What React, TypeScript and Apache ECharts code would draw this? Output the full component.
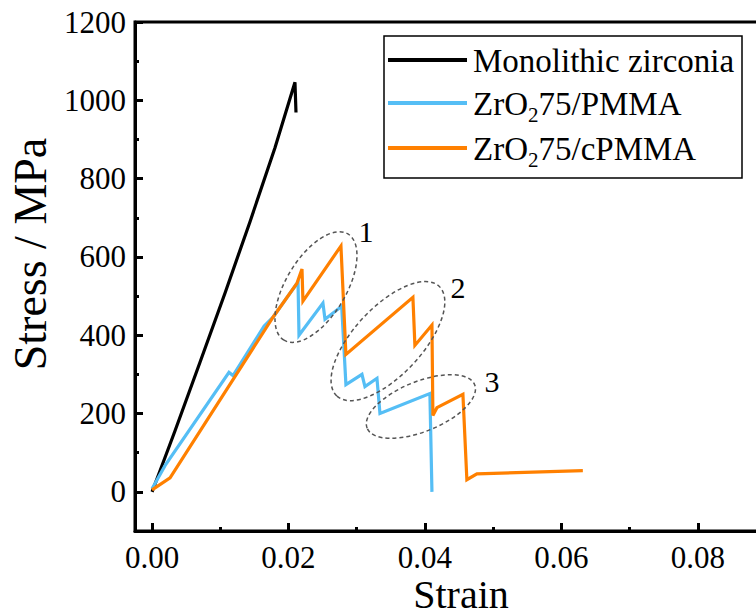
import React, { useEffect, useRef } from "react";
import * as echarts from "echarts";

// ---- Data ----
const monoStrain = [0, 0.00117, 0.00337, 0.00703, 0.0107, 0.01436, 0.01802, 0.02095, 0.0211];
const monoStress = [0, 54, 156, 331, 508, 690, 879, 1046, 969];

const pmmaStrain = [0, 0.0019, 0.01128, 0.01187, 0.01641, 0.01773, 0.0214, 0.02154, 0.02505, 0.02535, 0.0278, 0.02842, 0.03077, 0.03121, 0.03297, 0.03341, 0.04073, 0.04103];
const pmmaStress = [8, 67, 305, 297, 423, 446, 536, 400, 482, 441, 474, 274, 300, 269, 290, 200, 251, 0];

const cpmmaStrain = [0, 0.00264, 0.01773, 0.02125, 0.02198, 0.02212, 0.02769, 0.02842, 0.03824, 0.03853, 0.04103, 0.04117, 0.04176, 0.04557, 0.04615, 0.04762, 0.06315];
const cpmmaStress = [5, 36, 446, 533, 569, 487, 628, 351, 497, 374, 426, 195, 215, 249, 31, 46, 54];

const seriesNames = ["Monolithic zirconia", "ZrO2 75/PMMA", "ZrO2 75/cPMMA"];
const seriesColors = ["#000000", "#55BEF5", "#FF8000"];
// legend text pieces: [main, subscript, main]
const legendParts = [["Monolithic zirconia", "", ""], ["ZrO", "2", "75/PMMA"], ["ZrO", "2", "75/cPMMA"]];

const xTickLabels = [0, 0.02, 0.04, 0.06, 0.08];
const xMinorTicks = [0.01, 0.03, 0.05, 0.07, 0.09];
const yTickLabels = [0, 200, 400, 600, 800, 1000, 1200];
const yMinorTicks = [100, 300, 500, 700, 900, 1100];

// annotation ellipses: centre (strain, stress), semi-axes px, rotation deg, label and its anchor
const annoCenters = [[0.02403, 523], [0.03458, 385], [0.03941, 218]];
const annoAxes = [[62, 30, 59], [75, 34, 47], [58, 25, 22]];
const annoLabels = ["1", "2", "3"];
const annoLabelPos = [[0.03136, 664], [0.04484, 521], [0.04982, 282]];

const FONT = "'Liberation Serif', 'Times New Roman', Times, serif";

function zip(xs: number[], ys: number[]) {
  return xs.map((x, i) => [x, ys[i]]);
}

let measureCtx: CanvasRenderingContext2D | null = null;
function textWidth(text: string, size: number) {
  if (!text) return 0;
  if (!measureCtx) measureCtx = document.createElement("canvas").getContext("2d");
  if (!measureCtx) return text.length * size * 0.5;
  measureCtx.font = size + "px " + FONT;
  return measureCtx.measureText(text).width;
}

export default function App() {
  const ref = useRef<HTMLDivElement>(null);
  useEffect(() => {
    if (!ref.current) return;
    const chart = echarts.init(ref.current, undefined, { renderer: "svg" });
    const datasets = [zip(monoStrain, monoStress), zip(pmmaStrain, pmmaStress), zip(cpmmaStrain, cpmmaStress)];
    const axisCommon = {
      type: "value" as const,
      splitLine: { show: false },
    };
    chart.setOption({
      animation: false,
      backgroundColor: "#ffffff",
      grid: {
        left: 135,
        top: 22,
        right: 34,
        bottom: 84,
        show: true,
        borderColor: "#000",
        borderWidth: 3,
        backgroundColor: "transparent",
      },
      xAxis: [
        {
          ...axisCommon,
          min: -0.0025,
          max: 0.09,
          position: "bottom",
          axisLine: { show: true, onZero: false, lineStyle: { color: "#000", width: 3 } },
          axisTick: { show: true, inside: true, length: 8, customValues: xTickLabels, lineStyle: { color: "#000", width: 3 } },
          axisLabel: {
            show: true,
            customValues: xTickLabels,
            formatter: (v: number) => v.toFixed(2),
            fontFamily: FONT,
            fontSize: 31,
            lineHeight: 28,
            color: "#000",
            margin: 12,
          },
        },
        {
          ...axisCommon,
          min: -0.0025,
          max: 0.09,
          position: "bottom",
          axisLine: { show: false, onZero: false },
          axisTick: { show: true, inside: true, length: 4, customValues: xMinorTicks, lineStyle: { color: "#000", width: 3 } },
          axisLabel: { show: false },
        },
      ],
      yAxis: [
        {
          ...axisCommon,
          min: -100,
          max: 1200,
          position: "left",
          axisLine: { show: true, onZero: false, lineStyle: { color: "#000", width: 3 } },
          axisTick: { show: true, inside: true, length: 8, customValues: yTickLabels, lineStyle: { color: "#000", width: 3 } },
          axisLabel: {
            show: true,
            customValues: yTickLabels,
            formatter: (v: number) => String(v),
            fontFamily: FONT,
            fontSize: 31,
            color: "#000",
            margin: 9,
          },
        },
        {
          ...axisCommon,
          min: -100,
          max: 1200,
          position: "left",
          axisLine: { show: false, onZero: false },
          axisTick: { show: true, inside: true, length: 4, customValues: yMinorTicks, lineStyle: { color: "#000", width: 3 } },
          axisLabel: { show: false },
        },
      ],
      series: seriesNames.map((name, i) => ({
        name,
        type: "line",
        xAxisIndex: 0,
        yAxisIndex: 0,
        data: datasets[i],
        showSymbol: false,
        symbol: "none",
        lineStyle: { color: seriesColors[i], width: 3.2, join: "miter" },
        itemStyle: { color: seriesColors[i] },
        z: 2 + i,
      })),
    });

    const graphics: any[] = [];
    annoCenters.forEach((c, i) => {
      const p = chart.convertToPixel({ gridIndex: 0 }, c) as number[];
      graphics.push({
        type: "ellipse",
        x: p[0],
        y: p[1],
        rotation: (annoAxes[i][2] * Math.PI) / 180,
        shape: { cx: 0, cy: 0, rx: annoAxes[i][0], ry: annoAxes[i][1] },
        style: { fill: "none", stroke: "#555", lineWidth: 1.5, lineDash: [4, 3] },
        silent: true,
        z: 20,
      });
      const lp = chart.convertToPixel({ gridIndex: 0 }, annoLabelPos[i]) as number[];
      graphics.push({
        type: "text",
        x: lp[0],
        y: lp[1],
        style: { text: annoLabels[i], fontFamily: FONT, fontSize: 30, fill: "#000", textAlign: "center", textVerticalAlign: "middle" },
        silent: true,
        z: 20,
      });
    });

    // legend box
    const LX = 384, LY = 36, LW = 358, LH = 142;
    const rowY = [60, 103, 148];
    const mainSize = 33, subSize = 21;
    const legendChildren: any[] = [
      { type: "rect", shape: { x: LX, y: LY, width: LW, height: LH }, style: { fill: "#fff", stroke: "#000", lineWidth: 1.5 } },
    ];
    legendParts.forEach((parts, i) => {
      const y = rowY[i];
      legendChildren.push({
        type: "line",
        shape: { x1: 388, y1: y, x2: 467, y2: y },
        style: { stroke: seriesColors[i], lineWidth: 4 },
      });
      let x = 473;
      legendChildren.push({
        type: "text",
        x,
        y: y + 1,
        style: { text: parts[0], fontFamily: FONT, fontSize: mainSize, fill: "#000", textAlign: "left", textVerticalAlign: "middle" },
      });
      x += textWidth(parts[0], mainSize);
      if (parts[1]) {
        legendChildren.push({
          type: "text",
          x,
          y: y + 12,
          style: { text: parts[1], fontFamily: FONT, fontSize: subSize, fill: "#000", textAlign: "left", textVerticalAlign: "middle" },
        });
        x += textWidth(parts[1], subSize);
      }
      if (parts[2]) {
        legendChildren.push({
          type: "text",
          x,
          y: y + 1,
          style: { text: parts[2], fontFamily: FONT, fontSize: mainSize, fill: "#000", textAlign: "left", textVerticalAlign: "middle" },
        });
      }
    });
    graphics.push({ type: "group", z: 30, silent: true, children: legendChildren });

    graphics.push({
      type: "text",
      x: 461,
      y: 594,
      style: { text: "Strain", fontFamily: FONT, fontSize: 40, lineHeight: 38, fill: "#000", textAlign: "center", textVerticalAlign: "middle" },
      z: 20,
    });
    graphics.push({
      type: "text",
      x: 30,
      y: 254,
      rotation: Math.PI / 2,
      style: { text: "Stress / MPa", fontFamily: FONT, fontSize: 46, fill: "#000", textAlign: "center", textVerticalAlign: "middle" },
      z: 20,
    });
    chart.setOption({ graphic: graphics });

    return () => {
      chart.dispose();
    };
  }, []);

  return (
    <div style={{ position: "fixed", left: 0, top: 0, width: 756, height: 615, overflow: "hidden", background: "#fff" }}>
      <div ref={ref} style={{ width: 800, height: 615 }} />
    </div>
  );
}
